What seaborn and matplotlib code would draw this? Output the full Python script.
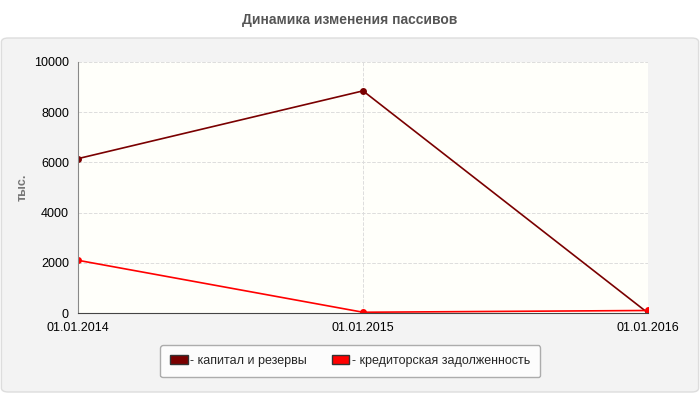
import matplotlib
matplotlib.use("Agg")
import matplotlib.pyplot as plt
import seaborn as sns
import pandas as pd
from matplotlib.patches import FancyBboxPatch, Patch

dates = ["01.01.2014", "01.01.2015", "01.01.2016"]
capital = [6150, 8850, 0]
credit = [2100, 30, 100]
names = ["- капитал и резервы", "- кредиторская задолженность"]
colors = ["#7a0000", "#ff0000"]

sns.set_style("white")
plt.rcParams['font.family'] = ['Liberation Sans', 'DejaVu Sans']

fig = plt.figure(figsize=(7, 4), dpi=100)
fig.patch.set_facecolor("white")
bg = FancyBboxPatch((0.002, 0.02), 0.996, 0.885, boxstyle="round,pad=0,rounding_size=0.01",
                    transform=fig.transFigure, facecolor="#f3f3f3", edgecolor="#dddddd", zorder=-10)
fig.patches.append(bg)
fig.text(0.5, 0.95, "Динамика изменения пассивов", ha="center", va="center",
         fontsize=10, fontweight="bold", color="#555555")

ax = fig.add_axes([78/700, 1-313/400, (648-78)/700, (313-62)/400])
ax.set_facecolor("#fffffa")
df = pd.DataFrame({"x": list(range(3)) * 2, "y": capital + credit,
                   "s": [names[0]] * 3 + [names[1]] * 3})
sns.lineplot(data=df, x="x", y="y", hue="s", palette=colors, marker="o", markersize=5,
             markeredgewidth=0, linewidth=1.2, ax=ax, legend=False)
ax.set_xlim(0, 2)
ax.set_ylim(0, 10000)
ax.set_xticks([0, 1, 2])
ax.set_xticklabels(dates)
ax.set_yticks(range(0, 10001, 2000))
ax.tick_params(labelsize=9, colors="black", length=3)
ax.grid(True, color="#dddddd", linestyle="--", linewidth=0.7)
ax.set_xlabel("")
ax.set_ylabel("тыс.", color="#777777", fontsize=9, fontweight="bold", labelpad=4)
for s in ["top", "right"]:
    ax.spines[s].set_visible(False)
ax.spines["left"].set_color("#888888")
ax.spines["bottom"].set_color("#444444")

handles = [Patch(facecolor=c, edgecolor="#333333") for c in colors]
leg = fig.legend(handles, names, loc="center", bbox_to_anchor=(0.5, 1-361/400), ncol=2,
                 fontsize=9, frameon=True, handlelength=1.4, handleheight=0.7,
                 handletextpad=0.2, columnspacing=2, fancybox=True, borderpad=0.8)
leg.get_frame().set_edgecolor("#999999")
fig.savefig("out.png", dpi=100)
